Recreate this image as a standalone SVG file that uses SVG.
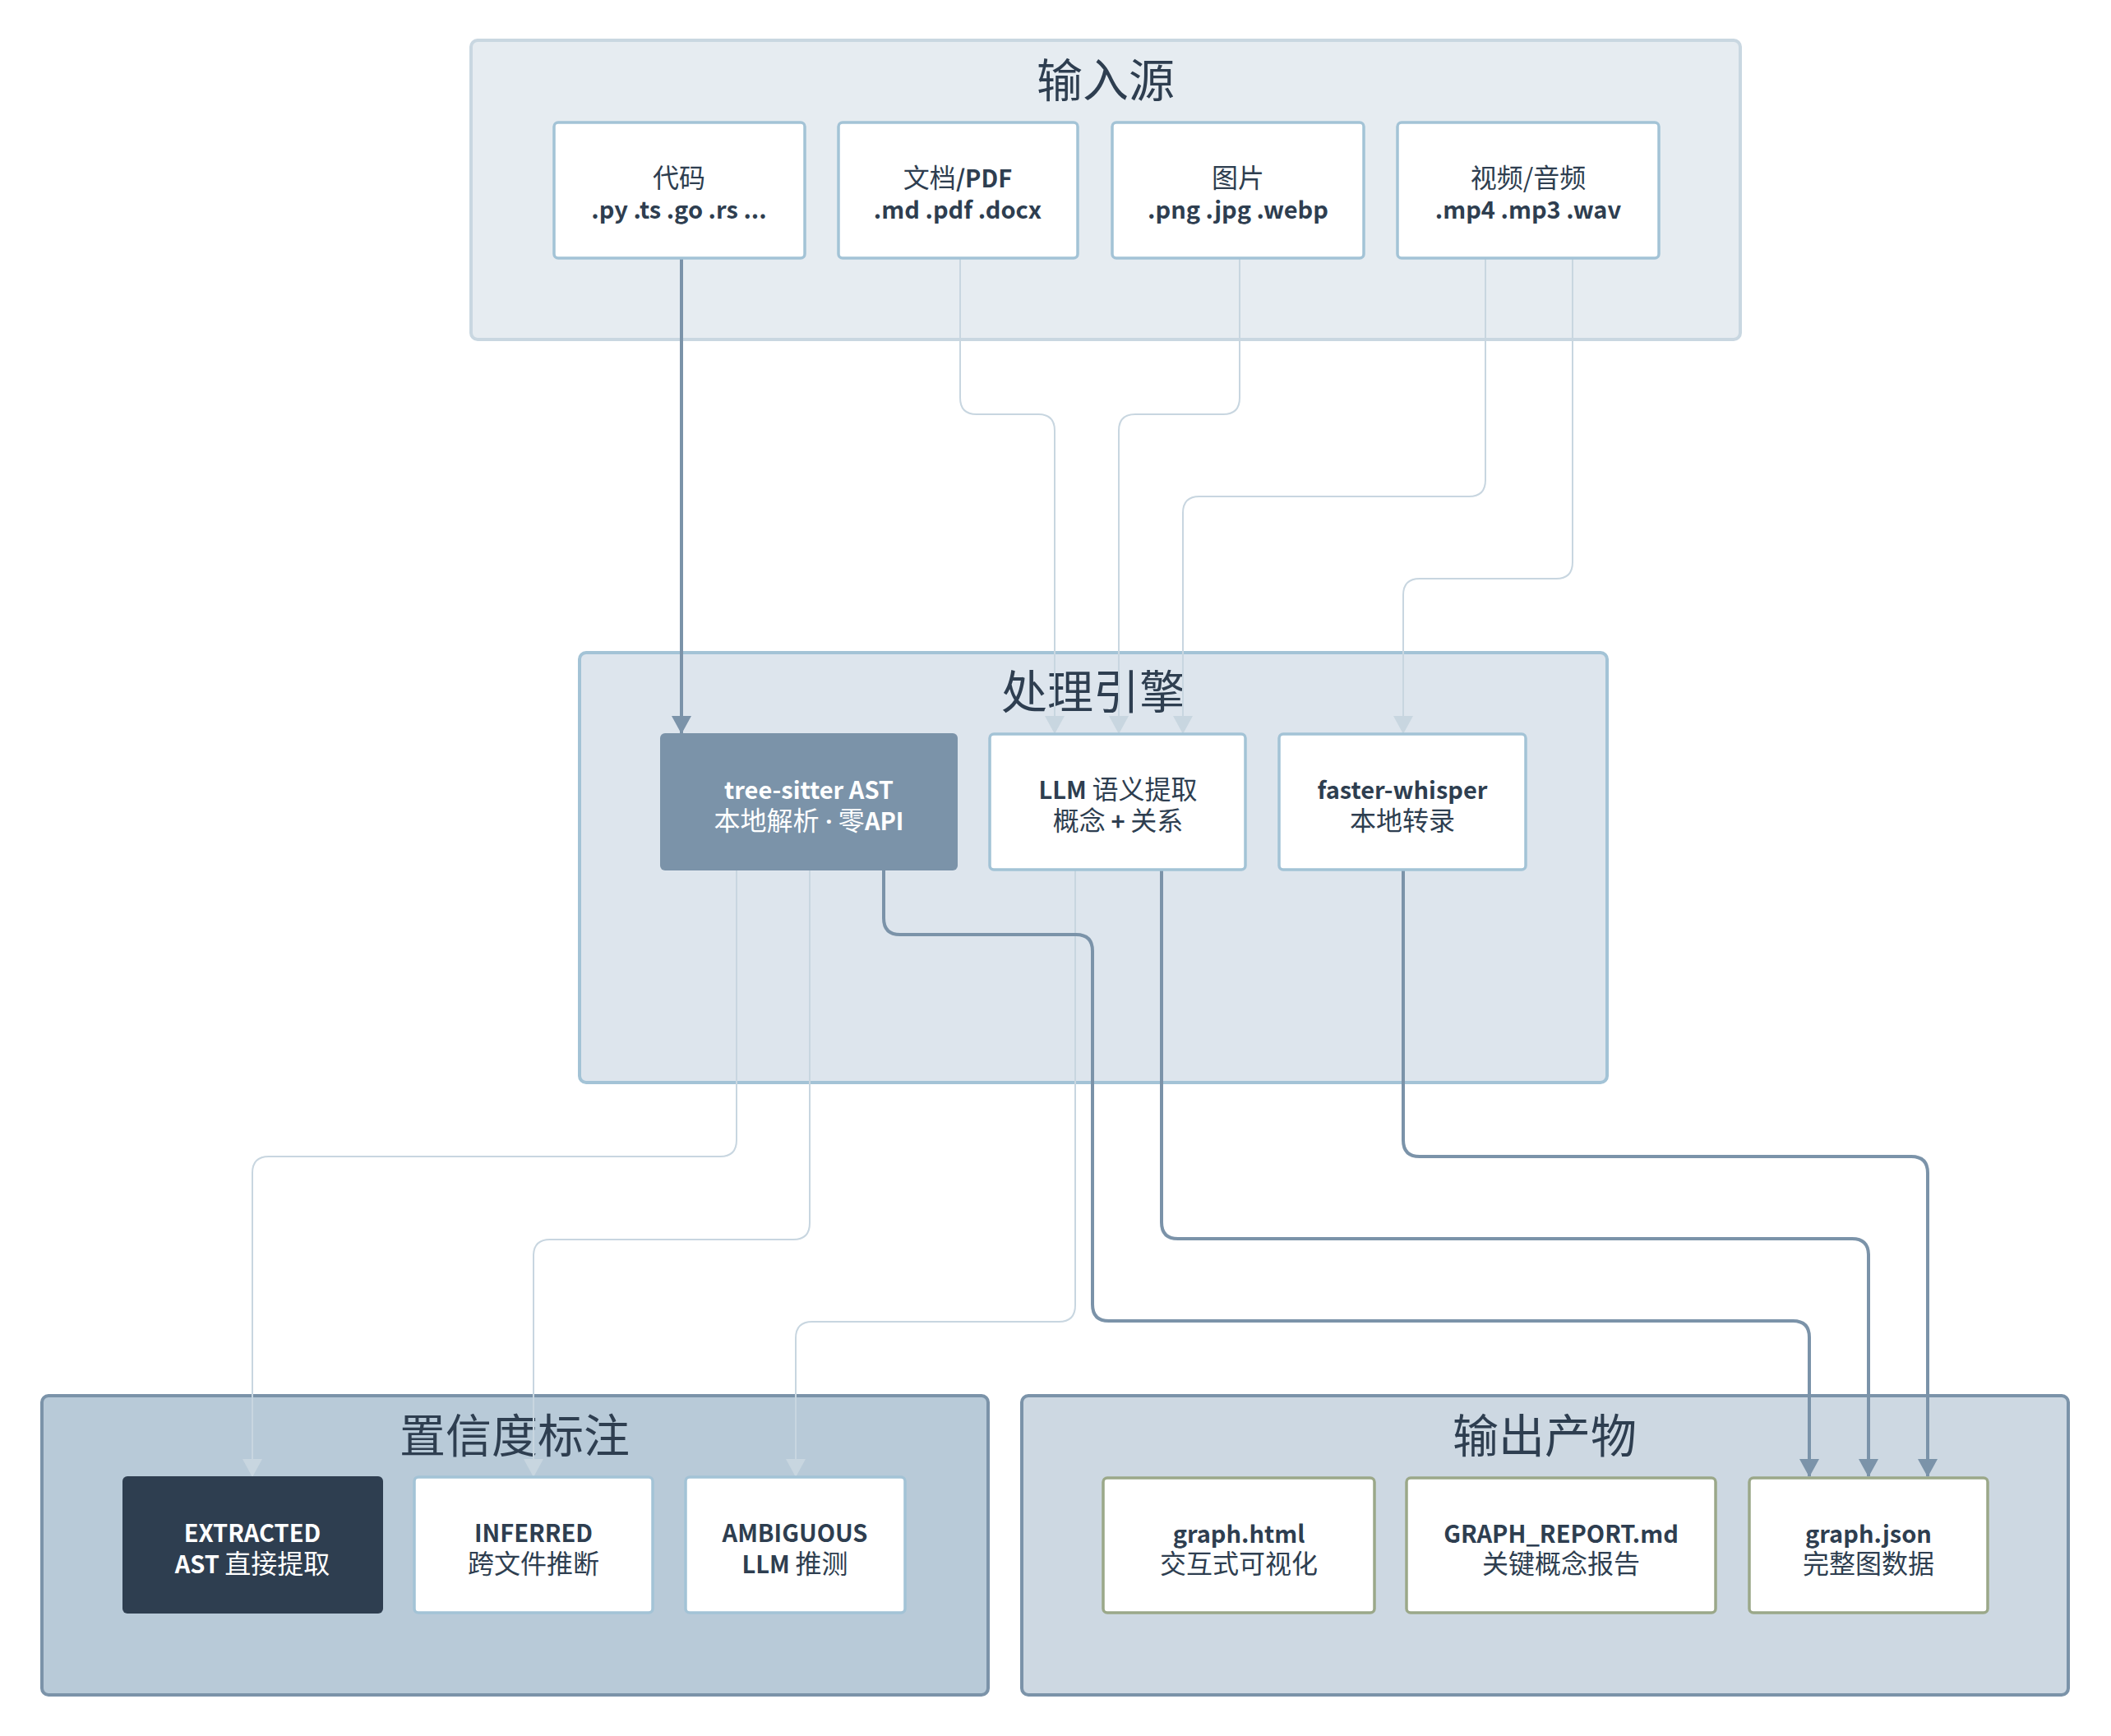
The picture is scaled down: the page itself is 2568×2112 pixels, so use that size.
<svg xmlns="http://www.w3.org/2000/svg" width="2568" height="2112" viewBox="0 0 2568 2112">
<defs>
<marker id="al" markerUnits="userSpaceOnUse" markerWidth="24" markerHeight="22" viewBox="0 0 24 22" refX="12" refY="21" orient="0">
<path d="M0 0 L24 0 L12 22 Z" fill="#c8d6e0"/>
</marker>
<marker id="ad2" markerUnits="userSpaceOnUse" markerWidth="24" markerHeight="22" viewBox="0 0 24 22" refX="12" refY="21" orient="0">
<path d="M0 0 L24 0 L12 22 Z" fill="#7b93a9"/>
</marker>
</defs>
<style>
text{font-family:"Noto Sans CJK SC","Noto Sans",sans-serif;fill:#2e3e50;text-anchor:middle}
.t{font-size:56px;font-weight:400}
.l{font-size:29px;font-weight:700}
.r{font-weight:400;font-size:32px}
.d{font-family:"Noto Sans",sans-serif;font-weight:700}
.w{fill:#ffffff}
.node{fill:#ffffff;stroke:#a3c3d6;stroke-width:3.5}
.out{fill:#ffffff;stroke:#9ba889;stroke-width:3.5}
.dk{fill:none;stroke:#7b93a9;stroke-width:4;marker-end:url(#ad2)}
.lt{fill:none;stroke:#c8d6e0;stroke-width:2;marker-end:url(#al)}
</style>
<rect width="2568" height="2112" fill="#ffffff"/>

<g id="cluster-input">
<rect x="573" y="49" width="1544" height="364" rx="8" fill="#e6ecf1" stroke="#c9d7e1" stroke-width="4"/>
<text class="t" x="1345" y="118">输入源</text>
</g>
<g id="cluster-engine">
<rect x="705" y="794" width="1250" height="523" rx="8" fill="#dde5ed" stroke="#a3c3d6" stroke-width="4"/>
<text class="t" x="1330" y="862">处理引擎</text>
</g>
<g id="cluster-confidence">
<rect x="51" y="1698" width="1151" height="364" rx="8" fill="#b8cad8" stroke="#7b93a9" stroke-width="4"/>
<text class="t" x="626" y="1767">置信度标注</text>
</g>
<g id="cluster-output">
<rect x="1243" y="1698" width="1273" height="364" rx="8" fill="#cdd8e2" stroke="#7b93a9" stroke-width="4"/>
<text class="t" x="1879" y="1767">输出产物</text>
</g>

<g id="connectors">
<path class="dk" d="M829 315 V892"/>
<path class="lt" d="M1168 315 V484 Q1168 504 1188 504 H1263 Q1283 504 1283 524 V892"/>
<path class="lt" d="M1508 315 V484 Q1508 504 1488 504 H1381 Q1361 504 1361 524 V892"/>
<path class="lt" d="M1807 315 V584 Q1807 604 1787 604 H1459 Q1439 604 1439 624 V892"/>
<path class="lt" d="M1913 315 V684 Q1913 704 1893 704 H1727 Q1707 704 1707 724 V892"/>
<path class="lt" d="M896 1059 V1387 Q896 1407 876 1407 H327 Q307 1407 307 1427 V1796"/>
<path class="lt" d="M985 1059 V1488 Q985 1508 965 1508 H669 Q649 1508 649 1528 V1796"/>
<path class="lt" d="M1308 1059 V1588 Q1308 1608 1288 1608 H988 Q968 1608 968 1628 V1796"/>
<path class="dk" d="M1075 1059 V1117 Q1075 1137 1095 1137 H1309 Q1329 1137 1329 1157 V1587 Q1329 1607 1349 1607 H2181 Q2201 1607 2201 1627 V1796"/>
<path class="dk" d="M1413 1059 V1487 Q1413 1507 1433 1507 H2253 Q2273 1507 2273 1527 V1796"/>
<path class="dk" d="M1707 1059 V1387 Q1707 1407 1727 1407 H2325 Q2345 1407 2345 1427 V1796"/>
</g>

<g id="node-code">
<rect class="node" x="674" y="149" width="305" height="165" rx="5"/>
<text class="l" x="826" y="228"><tspan class="r">代码</tspan></text>
<text class="l" x="826" y="266">.py .ts .go .rs ...</text>
</g>
<g id="node-docs">
<rect class="node" x="1020" y="149" width="291" height="165" rx="5"/>
<text class="l" x="1165" y="228"><tspan class="r">文档</tspan>/PDF</text>
<text class="l" x="1165" y="266">.md .pdf .docx</text>
</g>
<g id="node-images">
<rect class="node" x="1353" y="149" width="306" height="165" rx="5"/>
<text class="l" x="1506" y="228"><tspan class="r">图片</tspan></text>
<text class="l" x="1506" y="266">.png .jpg .webp</text>
</g>
<g id="node-media">
<rect class="node" x="1700" y="149" width="318" height="165" rx="5"/>
<text class="l" x="1859" y="228"><tspan class="r">视频/音频</tspan></text>
<text class="l" x="1859" y="266">.mp4 .mp3 .wav</text>
</g>

<g id="node-treesitter">
<rect x="803" y="892" width="362" height="167" rx="6" fill="#7b93a9"/>
<text class="l w" x="984" y="972">tree-sitter AST</text>
<text class="l w" x="984" y="1010"><tspan class="r">本地解析</tspan><tspan class="d"> · </tspan><tspan class="r">零</tspan>API</text>
</g>
<g id="node-llm">
<rect class="node" x="1204" y="893" width="311" height="165" rx="5"/>
<text class="l" x="1360" y="972">LLM <tspan class="r">语义提取</tspan></text>
<text class="l" x="1360" y="1010"><tspan class="r">概念</tspan> + <tspan class="r">关系</tspan></text>
</g>
<g id="node-whisper">
<rect class="node" x="1556" y="893" width="300" height="165" rx="5"/>
<text class="l" x="1706" y="972">faster-whisper</text>
<text class="l" x="1706" y="1010"><tspan class="r">本地转录</tspan></text>
</g>

<g id="node-extracted">
<rect x="149" y="1796" width="317" height="167" rx="6" fill="#2e3e50"/>
<text class="l w" x="307" y="1876">EXTRACTED</text>
<text class="l w" x="307" y="1914">AST <tspan class="r">直接提取</tspan></text>
</g>
<g id="node-inferred">
<rect class="node" x="504" y="1797" width="290" height="165" rx="5"/>
<text class="l" x="649" y="1876">INFERRED</text>
<text class="l" x="649" y="1914"><tspan class="r">跨文件推断</tspan></text>
</g>
<g id="node-ambiguous">
<rect class="node" x="834" y="1797" width="267" height="165" rx="5"/>
<text class="l" x="967" y="1876">AMBIGUOUS</text>
<text class="l" x="967" y="1914">LLM <tspan class="r">推测</tspan></text>
</g>

<g id="node-html">
<rect class="out" x="1342" y="1798" width="330" height="164" rx="5"/>
<text class="l" x="1507" y="1877">graph.html</text>
<text class="l" x="1507" y="1914"><tspan class="r">交互式可视化</tspan></text>
</g>
<g id="node-report">
<rect class="out" x="1711" y="1798" width="376" height="164" rx="5"/>
<text class="l" x="1899" y="1877">GRAPH_REPORT.md</text>
<text class="l" x="1899" y="1914"><tspan class="r">关键概念报告</tspan></text>
</g>
<g id="node-json">
<rect class="out" x="2128" y="1798" width="290" height="164" rx="5"/>
<text class="l" x="2273" y="1877">graph.json</text>
<text class="l" x="2273" y="1914"><tspan class="r">完整图数据</tspan></text>
</g>
</svg>
